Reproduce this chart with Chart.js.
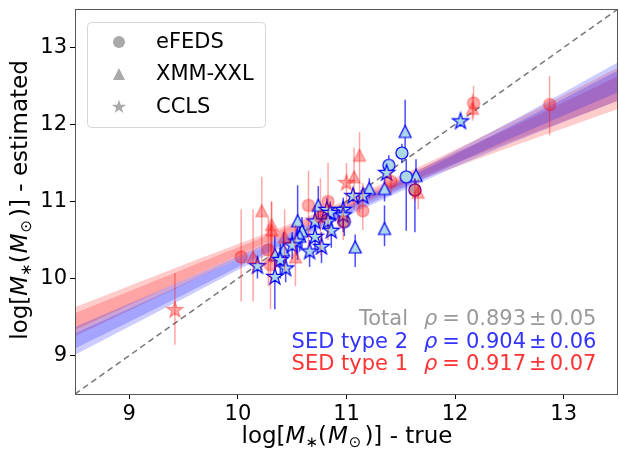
<!DOCTYPE html>
<html>
<head>
<meta charset="utf-8">
<script src="https://cdn.jsdelivr.net/npm/chart.js@4.4.0/dist/chart.umd.min.js"></script>
<style>
  html, body { margin: 0; padding: 0; background: #fff; }
</style>
</head>
<body>
<canvas id="chart" width="619" height="450"></canvas>
<script>
// axis ticks
var xTicks = [9, 10, 11, 12, 13];
var yTicks = [9, 10, 11, 12, 13];

// one-to-one line
var diagLine = [8.5, 13.5];

// SED type 2 (blue) - eFEDS circles
var t2CircX  = [11.51, 11.39, 11.55, 11.63, 10.98];
var t2CircY  = [11.63, 11.47, 11.32, 11.15, 10.74];
var t2CircLo = [11.50, 11.35, 10.62, 10.60, 10.55];
var t2CircHi = [11.75, 11.60, 11.55, 11.30, 10.90];

// SED type 2 - XMM-XXL triangles
var t2TriX  = [11.54, 11.64, 11.35, 11.35, 11.21, 11.08, 10.74, 10.55, 10.59, 10.57, 10.34, 10.42];
var t2TriY  = [11.91, 11.34, 11.17, 10.65, 11.17, 10.41, 10.95, 10.75, 10.62, 10.55, 10.31, 10.37];
var t2TriLo = [11.60, 11.10, 11.00, 10.42, 11.05, 10.15, 10.70, 10.24, 10.40, 10.35, 10.05, 10.15];
var t2TriHi = [12.32, 11.55, 11.35, 10.95, 11.30, 10.57, 11.20, 11.21, 10.80, 10.75, 10.55, 10.60];

// SED type 2 - CCLS stars
var t2StarX  = [12.05, 11.37, 11.15, 11.06, 10.97, 10.97, 10.82, 10.85, 10.71, 10.83, 10.86, 10.71, 10.77, 10.66, 10.54, 10.50, 10.39, 10.44, 10.34, 10.18];
var t2StarY  = [12.04, 11.37, 11.07, 11.07, 10.89, 10.82, 10.89, 10.85, 10.74, 10.74, 10.62, 10.54, 10.41, 10.35, 10.48, 10.43, 10.24, 10.13, 10.02, 10.16];
var t2StarLo = [12.00, 11.30, 11.00, 11.00, 10.65, 10.60, 10.70, 10.70, 10.50, 10.55, 10.40, 10.35, 10.20, 10.15, 10.30, 10.25, 10.00, 9.95, 9.60, 10.00];
var t2StarHi = [12.10, 11.45, 11.15, 11.15, 11.05, 11.00, 11.05, 11.00, 10.95, 10.95, 10.80, 10.75, 10.60, 10.50, 10.65, 10.60, 10.45, 10.30, 10.25, 10.30];

// SED type 1 (red) - eFEDS circles
var t1CircX  = [12.87, 12.17, 11.41, 11.15, 10.65, 10.83, 10.76, 10.03, 10.28, 10.30, 11.63, 10.97];
var t1CircY  = [12.26, 12.28, 11.26, 10.88, 10.95, 11.00, 10.80, 10.28, 10.37, 10.18, 11.15, 10.74];
var t1CircLo = [11.86, 12.08, 11.10, 10.63, 10.40, 10.50, 10.30, 9.70, 9.90, 9.60, 11.00, 10.50];
var t1CircHi = [12.63, 12.50, 11.40, 11.24, 11.40, 11.50, 11.30, 10.90, 10.80, 10.70, 11.30, 10.95];

// SED type 1 - XMM-XXL triangles
var t1TriX  = [12.16, 11.12, 11.07, 10.22, 10.31, 10.31, 10.53, 10.43, 10.14, 11.66];
var t1TriY  = [12.21, 11.60, 11.32, 10.88, 10.70, 10.63, 10.28, 10.54, 10.28, 11.12];
var t1TriLo = [12.05, 10.85, 10.90, 10.11, 10.30, 10.20, 9.90, 10.10, 9.70, 10.90];
var t1TriHi = [12.40, 11.90, 11.70, 11.32, 11.00, 11.00, 10.70, 10.90, 10.90, 11.30];

// SED type 1 - CCLS stars
var t1StarX  = [9.42, 11.00];
var t1StarY  = [9.59, 11.24];
var t1StarLo = [9.14, 11.00];
var t1StarHi = [10.07, 11.50];

// fit confidence bands (read at these x values)
var bandX = [8.5, 9.5, 10.5, 11.5, 12.5, 13.5];
var redOuterLo  = [9.25, 9.92, 10.58, 11.18, 11.70, 12.20];
var redOuterHi  = [9.63, 10.18, 10.72, 11.34, 12.02, 12.74];
var redInnerLo  = [9.33, 9.98, 10.61, 11.21, 11.77, 12.31];
var redInnerHi  = [9.55, 10.12, 10.69, 11.31, 11.95, 12.63];
var blueOuterLo = [9.01, 9.74, 10.47, 11.13, 11.75, 12.31];
var blueOuterHi = [9.37, 9.98, 10.61, 11.29, 12.03, 12.81];
var blueInnerLo = [9.09, 9.79, 10.50, 11.16, 11.81, 12.42];
var blueInnerHi = [9.29, 9.93, 10.58, 11.26, 11.97, 12.70];

// legend and stats text
var legendNames = ["eFEDS", "XMM-XXL", "CCLS"];
var statLabels = ["Total", "SED type 2", "SED type 1"];
var statRho = ["0.893", "0.904", "0.917"];
var statErr = ["0.05", "0.06", "0.07"];
var statColors = ["#999999", "#3333ff", "#ff3333"];

var FONT = '"DejaVu Sans"';

function makeMarker(shape, fill, stroke, size) {
  var c = document.createElement("canvas");
  c.width = 22; c.height = 22;
  var ctx = c.getContext("2d");
  var m = 11, r = size / 2;
  ctx.beginPath();
  if (shape === "circle") {
    ctx.arc(m, m, r, 0, Math.PI * 2);
  } else if (shape === "triangle") {
    ctx.moveTo(m, m - r);
    ctx.lineTo(m - r, m + r);
    ctx.lineTo(m + r, m + r);
    ctx.closePath();
  } else {
    var inner = r * 0.382;
    for (var k = 0; k < 10; k++) {
      var a = -Math.PI / 2 + k * Math.PI / 5;
      var rr = k % 2 === 0 ? r : inner;
      ctx.lineTo(m + rr * Math.cos(a), m + rr * Math.sin(a));
    }
    ctx.closePath();
  }
  ctx.fillStyle = fill;
  ctx.fill();
  if (stroke) {
    ctx.strokeStyle = stroke;
    ctx.lineWidth = 1.2;
    ctx.stroke();
  }
  return c;
}

var blueFill = "#add8e6", blueEdge = "#0000ff";
var redFill = "rgba(255,0,0,0.33)", redEdge = "rgba(255,0,0,0.4)";
var sizes = { circle: 12, triangle: 12, star: 17 };

function pts(xs, ys) {
  return xs.map(function (x, i) { return { x: x, y: ys[i] }; });
}

function pointSet(xs, ys, lo, hi, shape, fill, edge, errColor, order) {
  return {
    type: "scatter",
    data: pts(xs, ys),
    errLo: lo,
    errHi: hi,
    errColor: errColor,
    pointStyle: makeMarker(shape, fill, edge, sizes[shape]),
    pointRadius: 6,
    order: order
  };
}

function bandSet(vals, color, fill, order) {
  return {
    type: "line",
    data: pts(bandX, vals),
    borderWidth: 0,
    pointRadius: 0,
    backgroundColor: color,
    fill: fill,
    tension: 0.3,
    order: order
  };
}

var errorBars = {
  id: "errorBars",
  beforeDatasetDraw: function (chart, args) {
    var ds = chart.data.datasets[args.index];
    if (!ds.errLo) return;
    var xs = chart.scales.x, ys = chart.scales.y, ctx = chart.ctx;
    ctx.save();
    ctx.strokeStyle = ds.errColor;
    ctx.lineWidth = 1.5;
    ds.data.forEach(function (p, i) {
      var px = xs.getPixelForValue(p.x);
      ctx.beginPath();
      ctx.moveTo(px, ys.getPixelForValue(ds.errLo[i]));
      ctx.lineTo(px, ys.getPixelForValue(ds.errHi[i]));
      ctx.stroke();
    });
    ctx.restore();
  }
};

function drawParts(ctx, parts, x, y, align) {
  var w = 0;
  parts.forEach(function (p) { ctx.font = p.f; w += ctx.measureText(p.t).width + (p.gap || 0); });
  var cx = align === "center" ? x - w / 2 : (align === "right" ? x - w : x);
  ctx.textAlign = "left";
  ctx.textBaseline = "alphabetic";
  parts.forEach(function (p) {
    ctx.font = p.f;
    ctx.fillText(p.t, cx, y + (p.dy || 0));
    cx += ctx.measureText(p.t).width + (p.gap || 0);
  });
}

function titleParts(tail) {
  var n = "23px " + FONT, it = "italic 23px " + FONT, s = "15px " + FONT;
  return [
    { t: "log[", f: n },
    { t: "M", f: it },
    { t: "\u2217", f: s, dy: 4 },
    { t: "(", f: n, gap: 1 },
    { t: "M", f: it, gap: 1 },
    { t: "\u2299", f: s, dy: 4, gap: 3 },
    { t: ")] - " + tail, f: n }
  ];
}

var decorations = {
  id: "decorations",
  afterDraw: function (chart) {
    var ctx = chart.ctx, ca = chart.chartArea;
    ctx.save();
    // frame
    ctx.strokeStyle = "#555";
    ctx.lineWidth = 1;
    ctx.strokeRect(ca.left + 0.5, ca.top + 0.5, ca.right - ca.left - 1, ca.bottom - ca.top);

    // legend box
    ctx.beginPath();
    ctx.roundRect(87.5, 22.5, 178, 105, 4);
    ctx.fillStyle = "rgba(255,255,255,0.8)";
    ctx.fill();
    ctx.strokeStyle = "#d6d6d6";
    ctx.stroke();
    var shapes = ["circle", "triangle", "star"];
    var rowY = [42, 74, 107];
    var gsz = { circle: 12, triangle: 12, star: 15 };
    shapes.forEach(function (sh, i) {
      var m = makeMarker(sh, "#aaaaaa", null, gsz[sh]);
      ctx.drawImage(m, 119 - 11, rowY[i] - 11);
      ctx.fillStyle = "#000";
      ctx.font = "21px " + FONT;
      ctx.textAlign = "left";
      ctx.textBaseline = "middle";
      ctx.fillText(legendNames[i], 156, rowY[i] + 1);
    });

    // correlation text
    var base = [325, 348, 370];
    var n = "21px " + FONT;
    statLabels.forEach(function (lab, i) {
      ctx.fillStyle = statColors[i];
      drawParts(ctx, [{ t: lab, f: n }], 408, base[i], "right");
      drawParts(ctx, [
        { t: "\u03c1", f: "italic 21px " + FONT, gap: 5 },
        { t: "=", f: n, gap: 6 },
        { t: statRho[i], f: n, gap: 3 },
        { t: "\u00b1", f: n, gap: 3 },
        { t: statErr[i], f: n }
      ], 424, base[i], "left");
    });

    // axis titles
    ctx.fillStyle = "#000";
    drawParts(ctx, titleParts("true"), 347, 443, "center");
    ctx.translate(27, 200);
    ctx.rotate(-Math.PI / 2);
    drawParts(ctx, titleParts("estimated"), 0, 0, "center");
    ctx.restore();
  }
};

var tickFont = { family: "DejaVu Sans", size: 21 };

function noPad(s) {
  s.paddingLeft = 0; s.paddingRight = 0; s.paddingTop = 0; s.paddingBottom = 0;
}

new Chart(document.getElementById("chart"), {
  data: {
    datasets: [
      bandSet(redOuterLo, "rgba(255,0,0,0.2)", false, 40),
      bandSet(redOuterHi, "rgba(255,0,0,0.2)", "-1", 40),
      bandSet(redInnerLo, "rgba(255,0,0,0.2)", false, 39),
      bandSet(redInnerHi, "rgba(255,0,0,0.2)", "-1", 39),
      bandSet(blueOuterLo, "rgba(0,0,255,0.2)", false, 38),
      bandSet(blueOuterHi, "rgba(0,0,255,0.2)", "-1", 38),
      bandSet(blueInnerLo, "rgba(0,0,255,0.2)", false, 37),
      bandSet(blueInnerHi, "rgba(0,0,255,0.2)", "-1", 37),
      {
        type: "line",
        data: pts(diagLine, diagLine),
        borderColor: "#777777",
        borderWidth: 1.5,
        borderDash: [6, 4],
        pointRadius: 0,
        fill: false,
        order: 30
      },
      pointSet(t2TriX, t2TriY, t2TriLo, t2TriHi, "triangle", blueFill, blueEdge, "rgba(0,0,255,0.7)", 12),
      pointSet(t2CircX, t2CircY, t2CircLo, t2CircHi, "circle", blueFill, blueEdge, "rgba(0,0,255,0.7)", 11),
      pointSet(t2StarX, t2StarY, t2StarLo, t2StarHi, "star", blueFill, blueEdge, "rgba(0,0,255,0.7)", 10),
      pointSet(t1TriX, t1TriY, t1TriLo, t1TriHi, "triangle", redFill, redEdge, "rgba(255,0,0,0.35)", 3),
      pointSet(t1CircX, t1CircY, t1CircLo, t1CircHi, "circle", redFill, redEdge, "rgba(255,0,0,0.35)", 2),
      pointSet(t1StarX, t1StarY, t1StarLo, t1StarHi, "star", redFill, redEdge, "rgba(255,0,0,0.35)", 1)
    ]
  },
  options: {
    responsive: false,
    animation: false,
    events: [],
    devicePixelRatio: 1,
    layout: { autoPadding: false, padding: { top: 9, right: 1, left: 0, bottom: 0 } },
    plugins: { legend: { display: false }, tooltip: { enabled: false } },
    scales: {
      x: {
        type: "linear", min: 8.5, max: 13.5,
        afterBuildTicks: function (s) { s.ticks = xTicks.map(function (v) { return { value: v }; }); },
        afterFit: function (s) { s.height = 56; noPad(s); },
        grid: { drawOnChartArea: false, drawTicks: true, tickLength: 5, tickColor: "#000", color: "#000" },
        border: { display: false },
        ticks: { font: tickFont, color: "#000", padding: 3, maxRotation: 0, autoSkip: false }
      },
      y: {
        type: "linear", min: 8.5, max: 13.5,
        afterBuildTicks: function (s) { s.ticks = yTicks.map(function (v) { return { value: v }; }); },
        afterFit: function (s) { s.width = 75; noPad(s); },
        grid: { drawOnChartArea: false, drawTicks: true, tickLength: 5, tickColor: "#000", color: "#000" },
        border: { display: false },
        ticks: { font: tickFont, color: "#000", padding: 3, autoSkip: false }
      }
    }
  },
  plugins: [errorBars, decorations]
});
</script>
</body>
</html>
